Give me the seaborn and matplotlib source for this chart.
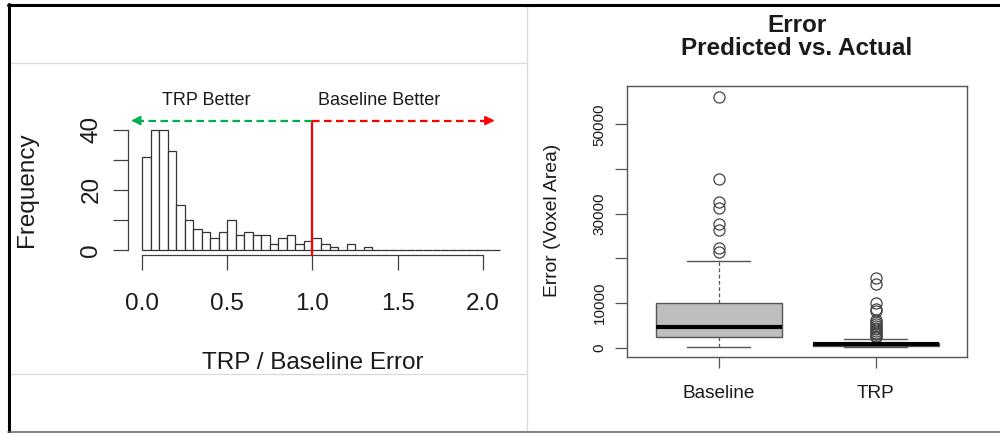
import numpy as np
import pandas as pd
import seaborn as sns
import matplotlib
matplotlib.use("Agg")
import matplotlib.pyplot as plt
from matplotlib.lines import Line2D

# ---------------- Data ----------------
# Histogram of TRP / Baseline error ratio (bin width 0.05, from 0.0 to 2.1)
bin_edges = [round(0.05 * i, 2) for i in range(43)]
hist_counts = [31, 40, 40, 33, 15, 10, 7, 6, 4, 6,
               10, 5, 6, 5, 5, 2, 4, 5, 2, 3,
               4, 2, 1, 0, 2, 0, 1, 0, 0, 0,
               0, 0, 0, 0, 0, 0, 0, 0, 0, 0,
               0, 0]
hist_xticks = [0.0, 0.5, 1.0, 1.5, 2.0]
hist_xticklabels = ["0.0", "0.5", "1.0", "1.5", "2.0"]
hist_yticks = [0, 10, 20, 30, 40]
hist_yticklabels = ["0", "", "20", "", "40"]
threshold = 1.0

# Box plot summary statistics (Error, voxel area)
groups = ["Baseline", "TRP"]
whisker_low = [200, 100]
q1 = [2500, 400]
median = [4700, 750]
q3 = [10000, 1100]
whisker_high = [19400, 1900]
outliers_baseline = [21400, 22300, 26400, 27700, 31200, 32700, 37700, 56200]
outliers_trp = [2400, 2700, 3000, 3300, 3700, 4100, 4500, 4900, 5300,
                5700, 6200, 8200, 8700, 9900, 14200, 15600]
box_yticks = [0, 10000, 20000, 30000, 40000, 50000]
box_yticklabels = ["0", "10000", "", "30000", "", "50000"]

# ---------------- Style ----------------
sns.set_theme(style="white")
plt.rcParams["font.family"] = ["Liberation Sans", "DejaVu Sans"]
TXT = "#1a1a1a"
AXC = "#404040"

fig = plt.figure(figsize=(10, 4.33), dpi=100)
W, H = 1000.0, 433.0


def fx(x):
    return x / W


def fy(y):
    return 1 - y / H


# ---------------- Left: histogram ----------------
ax1 = fig.add_axes([0.128, 0.4115, 0.386, 0.3003])
centers = [(bin_edges[i] + bin_edges[i + 1]) / 2 for i in range(len(hist_counts))]
hist_df = pd.DataFrame({"ratio": centers, "count": hist_counts})
sns.histplot(data=hist_df, x="ratio", weights="count", bins=bin_edges, ax=ax1,
             stat="count", color="white", edgecolor="#333333",
             linewidth=0.9, alpha=1.0)
ax1.set_xlim(-0.084, 2.184)
ax1.set_ylim(-1.6, 41.6)
for s in ["top", "right"]:
    ax1.spines[s].set_visible(False)
ax1.spines["left"].set_bounds(0, 40)
ax1.spines["bottom"].set_bounds(0, 2)
for s in ["left", "bottom"]:
    ax1.spines[s].set_color(AXC)
    ax1.spines[s].set_linewidth(0.9)
ax1.set_xticks(hist_xticks)
ax1.set_xticklabels(hist_xticklabels)
ax1.set_yticks(hist_yticks)
ax1.set_yticklabels(hist_yticklabels)
ax1.tick_params(axis="x", bottom=True, direction="out", length=10.5, width=0.9,
                color=AXC, labelsize=17.5, labelcolor=TXT, pad=17)
ax1.tick_params(axis="y", left=True, direction="out", length=10.5, width=0.9,
                color=AXC, labelsize=17.5, labelcolor=TXT, pad=8)
for lab in ax1.get_yticklabels():
    lab.set_rotation(90)
    lab.set_va("center")
ax1.set_ylabel("Frequency", fontsize=17.5, color=TXT, va="center")
ax1.yaxis.set_label_coords(-0.262, 0.5)
ax1.set_xlabel("TRP / Baseline Error", fontsize=17.5, color=TXT, va="center")
ax1.xaxis.set_label_coords(0.478, -0.83)

# Threshold line and "better" arrows
arrow_y = 43.0
ax1.plot([threshold, threshold], [-1.66, arrow_y], color="#ff0000", lw=1.6,
         clip_on=False, zorder=5)
ax1.plot([threshold, -0.03], [arrow_y, arrow_y], color="#00b050", lw=1.6,
         dashes=(3.4, 2.0), clip_on=False, zorder=5)
ax1.annotate("", xy=(-0.066, arrow_y), xytext=(-0.02, arrow_y),
             arrowprops=dict(arrowstyle="-|>", color="#00b050", lw=1.2,
                             mutation_scale=14, shrinkA=0, shrinkB=0),
             annotation_clip=False)
ax1.plot([threshold, 2.03], [arrow_y, arrow_y], color="#ff0000", lw=1.6,
         dashes=(3.4, 2.0), clip_on=False, zorder=5)
ax1.annotate("", xy=(2.07, arrow_y), xytext=(2.02, arrow_y),
             arrowprops=dict(arrowstyle="-|>", color="#ff0000", lw=1.2,
                             mutation_scale=14, shrinkA=0, shrinkB=0),
             annotation_clip=False)
ax1.text(0.376, 49.8, "TRP Better", ha="center", va="center", fontsize=13,
         color=TXT, clip_on=False)
ax1.text(1.394, 49.8, "Baseline Better", ha="center", va="center", fontsize=13,
         color=TXT, clip_on=False)

# ---------------- Right: box plot ----------------
ax2 = fig.add_axes([0.627, 0.1755, 0.340, 0.6259])
outs = [outliers_baseline, outliers_trp]
stats = []
for i, g in enumerate(groups):
    stats.append(dict(label=g, whislo=whisker_low[i], q1=q1[i], med=median[i],
                      q3=q3[i], whishi=whisker_high[i], fliers=outs[i]))
ax2.bxp(stats, positions=[1, 2], widths=0.8, capwidths=0.4, patch_artist=True,
        boxprops=dict(facecolor="#bebebe", edgecolor="#555555", linewidth=1.0),
        medianprops=dict(color="black", linewidth=3.0, solid_capstyle="butt"),
        whiskerprops=dict(color="#555555", linestyle=(0, (3, 2)), linewidth=0.9),
        capprops=dict(color="#555555", linewidth=1.0),
        flierprops=dict(marker="o", markerfacecolor="none",
                        markeredgecolor="#444444", markersize=8,
                        markeredgewidth=0.9))
ax2.set_xlim(0.417, 2.58)
ax2.set_ylim(-2080, 58570)
for s in ax2.spines.values():
    s.set_visible(True)
    s.set_color("#555555")
    s.set_linewidth(1.0)
ax2.set_xticks([1, 2])
ax2.set_xticklabels(groups)
ax2.set_yticks(box_yticks)
ax2.set_yticklabels(box_yticklabels)
ax2.tick_params(axis="x", bottom=True, direction="out", length=8, width=0.9,
                color="#555555", labelsize=13.7, labelcolor=TXT, pad=12)
ax2.tick_params(axis="y", left=True, direction="out", length=8.6, width=0.9,
                color="#555555", labelsize=11, labelcolor=TXT, pad=6)
for lab in ax2.get_yticklabels():
    lab.set_rotation(90)
    lab.set_va("center")
ax2.set_ylabel("Error (Voxel Area)", fontsize=13.9, color=TXT, va="center")
ax2.yaxis.set_label_coords(-0.22, 0.505)
ax2.set_title("Error\nPredicted vs. Actual", fontsize=17.5, fontweight="bold",
              color=TXT, pad=22, linespacing=1.05)

# ---------------- Frame / panel separators ----------------
light = "#d9d9d9"
fig.add_artist(Line2D([fx(526.5), fx(526.5)], [fy(5), fy(431)], color=light, lw=0.9))
fig.add_artist(Line2D([fx(10), fx(526.5)], [fy(63), fy(63)], color=light, lw=0.9))
fig.add_artist(Line2D([fx(10), fx(526.5)], [fy(374), fy(374)], color=light, lw=0.9))
fig.add_artist(Line2D([fx(8), fx(1000)], [fy(5), fy(5)], color="black", lw=2.2))
fig.add_artist(Line2D([fx(9), fx(9)], [fy(4), fy(431.5)], color="black", lw=2.2))
fig.add_artist(Line2D([fx(8), fx(1000)], [fy(431.5), fy(431.5)], color="#606060", lw=1.1))

fig.savefig("out.png", dpi=100, facecolor="white")
